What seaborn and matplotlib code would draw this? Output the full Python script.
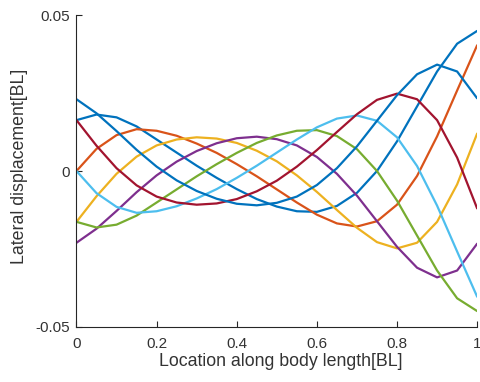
import numpy as np
import pandas as pd
import matplotlib
matplotlib.use("Agg")
import matplotlib.pyplot as plt
import seaborn as sns

# Sample positions along the body (body lengths)
location = [0.00, 0.05, 0.10, 0.15, 0.20, 0.25, 0.30, 0.35, 0.40, 0.45, 0.50,
            0.55, 0.60, 0.65, 0.70, 0.75, 0.80, 0.85, 0.90, 0.95, 1.00]

# Lateral displacement of the midline at eight instants of the beat cycle
snap1 = [0.0163, 0.0181, 0.0172, 0.0143, 0.0101, 0.0059, 0.0017, -0.0022, -0.0058, -0.0090, -0.0114,
         -0.0129, -0.0131, -0.0112, -0.0070, 0.0000, 0.0095, 0.0207, 0.0319, 0.0408, 0.0449]
snap2 = [0.0000, 0.0071, 0.0115, 0.0134, 0.0129, 0.0113, 0.0088, 0.0058, 0.0022, -0.0017, -0.0059,
         -0.0101, -0.0140, -0.0168, -0.0178, -0.0161, -0.0108, -0.0016, 0.0111, 0.0258, 0.0403]
snap3 = [-0.0163, -0.0081, -0.0009, 0.0046, 0.0082, 0.0101, 0.0108, 0.0104, 0.0090, 0.0065, 0.0031,
         -0.0014, -0.0067, -0.0125, -0.0182, -0.0228, -0.0248, -0.0230, -0.0163, -0.0043, 0.0120]
snap4 = [-0.0230, -0.0185, -0.0128, -0.0068, -0.0014, 0.0030, 0.0064, 0.0089, 0.0105, 0.0110, 0.0102,
         0.0082, 0.0045, -0.0009, -0.0079, -0.0161, -0.0243, -0.0310, -0.0341, -0.0319, -0.0233]
snap5 = [-0.0163, -0.0181, -0.0172, -0.0143, -0.0101, -0.0059, -0.0017, 0.0022, 0.0058, 0.0090, 0.0114,
         0.0129, 0.0131, 0.0112, 0.0070, 0.0000, -0.0095, -0.0207, -0.0319, -0.0408, -0.0449]
snap6 = [0.0000, -0.0071, -0.0115, -0.0134, -0.0129, -0.0113, -0.0088, -0.0058, -0.0022, 0.0017, 0.0059,
         0.0101, 0.0140, 0.0168, 0.0178, 0.0161, 0.0108, 0.0016, -0.0111, -0.0258, -0.0403]
snap7 = [0.0163, 0.0081, 0.0009, -0.0046, -0.0082, -0.0101, -0.0108, -0.0104, -0.0090, -0.0065, -0.0031,
         0.0014, 0.0067, 0.0125, 0.0182, 0.0228, 0.0248, 0.0230, 0.0163, 0.0043, -0.0120]
snap8 = [0.0230, 0.0185, 0.0128, 0.0068, 0.0014, -0.0030, -0.0064, -0.0089, -0.0105, -0.0110, -0.0102,
         -0.0082, -0.0045, 0.0009, 0.0079, 0.0161, 0.0243, 0.0310, 0.0341, 0.0319, 0.0233]

snapshots = [snap1, snap2, snap3, snap4, snap5, snap6, snap7, snap8]
snapshot_names = [f"t{k + 1}" for k in range(len(snapshots))]

x_ticks = [0, 0.2, 0.4, 0.6, 0.8, 1]
x_tick_labels = ["0", "0.2", "0.4", "0.6", "0.8", "1"]
y_ticks = [-0.05, 0, 0.05]
y_tick_labels = ["-0.05", "0", "0.05"]

line_colors = ["#0072BD", "#D95319", "#EDB120", "#7E2F8E",
               "#77AC30", "#4DBEEE", "#A2142F", "#0072BD"]

frames = []
for name, values in zip(snapshot_names, snapshots):
    frames.append(pd.DataFrame({"location": location, "displacement": values, "snapshot": name}))
df = pd.concat(frames, ignore_index=True)

sns.set_style("ticks")
plt.rcParams["font.family"] = ["Liberation Sans", "DejaVu Sans"]

fig = plt.figure(figsize=(4.81, 3.82), dpi=100)
ax = fig.add_axes([0.159, 0.144, 0.833, 0.8167])

sns.lineplot(data=df, x="location", y="displacement", hue="snapshot",
             hue_order=snapshot_names, palette=line_colors, legend=False,
             estimator=None, sort=False, linewidth=1.6, ax=ax)

ax.set_xlim(0, 1)
ax.set_ylim(-0.05, 0.05)
ax.set_xticks(x_ticks)
ax.set_xticklabels(x_tick_labels)
ax.set_yticks(y_ticks)
ax.set_yticklabels(y_tick_labels)

axis_gray = "#262626"
for side in ("top", "right"):
    ax.spines[side].set_visible(False)
for side in ("left", "bottom"):
    ax.spines[side].set_color(axis_gray)
    ax.spines[side].set_linewidth(0.8)
ax.tick_params(direction="in", length=4, width=0.8, colors=axis_gray,
               labelsize=11, labelcolor="#333333", pad=5)
ax.tick_params(axis="x", pad=7)

ax.set_xlabel("Location along body length[BL]", fontsize=12.8, color="#333333")
ax.set_ylabel("Lateral displacement[BL]", fontsize=12.8, color="#333333")
ax.xaxis.set_label_coords(0.51, -0.082)
ax.yaxis.set_label_coords(-0.121, 0.516)

fig.savefig("out.png", dpi=100)
